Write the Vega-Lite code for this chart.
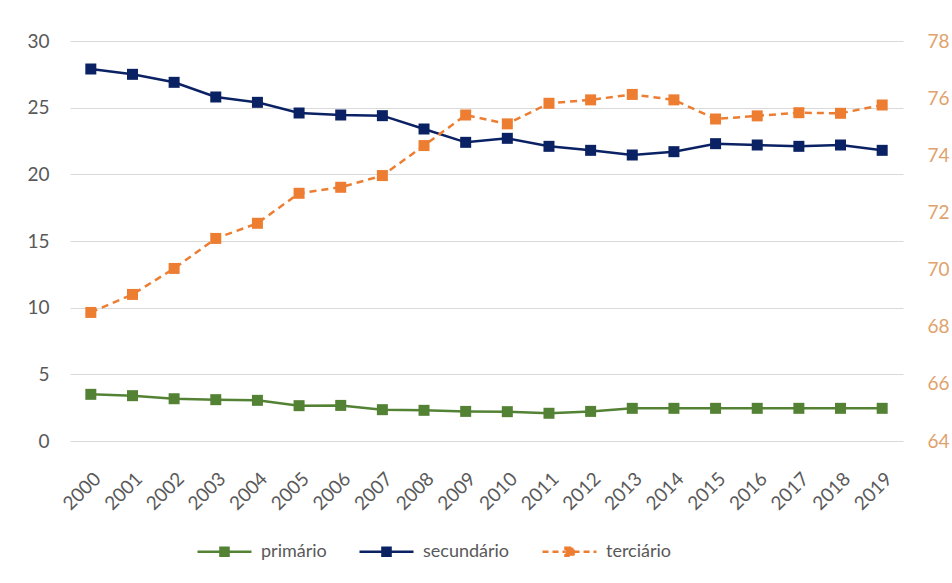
{
  "$schema": "https://vega.github.io/schema/vega-lite/v6.json",
  "width": 833,
  "height": 400,
  "autosize": {"type": "none"},
  "padding": {"left": 70, "top": 41, "right": 49, "bottom": 142},
  "background": "white",
  "config": {
    "font": "Lato",
    "view": {"stroke": null},
    "axis": {"labelFont": "Lato", "labelFontSize": 19, "labelColor": "#595959", "ticks": false, "domain": false, "title": null}
  },
  "datasets": {
    "serie": [
      {"ano": "2000", "serie": "primário", "valor": 3.5},
      {"ano": "2001", "serie": "primário", "valor": 3.4},
      {"ano": "2002", "serie": "primário", "valor": 3.17},
      {"ano": "2003", "serie": "primário", "valor": 3.1},
      {"ano": "2004", "serie": "primário", "valor": 3.05},
      {"ano": "2005", "serie": "primário", "valor": 2.65},
      {"ano": "2006", "serie": "primário", "valor": 2.67},
      {"ano": "2007", "serie": "primário", "valor": 2.35},
      {"ano": "2008", "serie": "primário", "valor": 2.3},
      {"ano": "2009", "serie": "primário", "valor": 2.22},
      {"ano": "2010", "serie": "primário", "valor": 2.2},
      {"ano": "2011", "serie": "primário", "valor": 2.08},
      {"ano": "2012", "serie": "primário", "valor": 2.22},
      {"ano": "2013", "serie": "primário", "valor": 2.45},
      {"ano": "2014", "serie": "primário", "valor": 2.45},
      {"ano": "2015", "serie": "primário", "valor": 2.45},
      {"ano": "2016", "serie": "primário", "valor": 2.45},
      {"ano": "2017", "serie": "primário", "valor": 2.45},
      {"ano": "2018", "serie": "primário", "valor": 2.45},
      {"ano": "2019", "serie": "primário", "valor": 2.45},
      {"ano": "2000", "serie": "secundário", "valor": 27.9},
      {"ano": "2001", "serie": "secundário", "valor": 27.5},
      {"ano": "2002", "serie": "secundário", "valor": 26.9},
      {"ano": "2003", "serie": "secundário", "valor": 25.8},
      {"ano": "2004", "serie": "secundário", "valor": 25.4},
      {"ano": "2005", "serie": "secundário", "valor": 24.6},
      {"ano": "2006", "serie": "secundário", "valor": 24.45},
      {"ano": "2007", "serie": "secundário", "valor": 24.4},
      {"ano": "2008", "serie": "secundário", "valor": 23.4},
      {"ano": "2009", "serie": "secundário", "valor": 22.4},
      {"ano": "2010", "serie": "secundário", "valor": 22.7},
      {"ano": "2011", "serie": "secundário", "valor": 22.1},
      {"ano": "2012", "serie": "secundário", "valor": 21.8},
      {"ano": "2013", "serie": "secundário", "valor": 21.45},
      {"ano": "2014", "serie": "secundário", "valor": 21.7},
      {"ano": "2015", "serie": "secundário", "valor": 22.3},
      {"ano": "2016", "serie": "secundário", "valor": 22.2},
      {"ano": "2017", "serie": "secundário", "valor": 22.1},
      {"ano": "2018", "serie": "secundário", "valor": 22.2},
      {"ano": "2019", "serie": "secundário", "valor": 21.8},
      {"ano": "2000", "serie": "terciário", "valor": 68.5},
      {"ano": "2001", "serie": "terciário", "valor": 69.13},
      {"ano": "2002", "serie": "terciário", "valor": 70.04},
      {"ano": "2003", "serie": "terciário", "valor": 71.09},
      {"ano": "2004", "serie": "terciário", "valor": 71.62},
      {"ano": "2005", "serie": "terciário", "valor": 72.67},
      {"ano": "2006", "serie": "terciário", "valor": 72.88},
      {"ano": "2007", "serie": "terciário", "valor": 73.29},
      {"ano": "2008", "serie": "terciário", "valor": 74.34},
      {"ano": "2009", "serie": "terciário", "valor": 75.41},
      {"ano": "2010", "serie": "terciário", "valor": 75.1},
      {"ano": "2011", "serie": "terciário", "valor": 75.82},
      {"ano": "2012", "serie": "terciário", "valor": 75.94},
      {"ano": "2013", "serie": "terciário", "valor": 76.13},
      {"ano": "2014", "serie": "terciário", "valor": 75.94},
      {"ano": "2015", "serie": "terciário", "valor": 75.27},
      {"ano": "2016", "serie": "terciário", "valor": 75.38},
      {"ano": "2017", "serie": "terciário", "valor": 75.49},
      {"ano": "2018", "serie": "terciário", "valor": 75.47},
      {"ano": "2019", "serie": "terciário", "valor": 75.76}
    ]
  },
  "data": {"name": "serie"},
  "encoding": {
    "x": {
      "field": "ano",
      "type": "ordinal",
      "scale": {"type": "point", "padding": 0.5},
      "axis": {"labelAngle": -45, "labelPadding": 28, "grid": false}
    },
    "color": {
      "field": "serie",
      "type": "nominal",
      "scale": {"domain": ["primário", "secundário", "terciário"], "range": ["#548235", "#0a2163", "#ED7D31"]},
      "legend": {
        "orient": "none",
        "legendX": 126,
        "legendY": 482,
        "direction": "horizontal",
        "title": null,
        "symbolType": "M-1,0H-0.15M0.15,0H1M-0.15,-0.15H0.15V0.15H-0.15Z",
        "symbolSize": 2916,
        "symbolStrokeWidth": 2.5,
        "labelFont": "Lato",
        "labelFontSize": 18,
        "labelColor": "#595959",
        "labelOffset": 8,
        "columnPadding": 27,
        "encode": {
          "symbols": {
            "update": {
              "fill": {"scale": "color", "field": "value"},
              "stroke": {"scale": "color", "field": "value"},
              "strokeDash": {"signal": "datum.value === 'terciário' ? [6, 4] : []"},
              "opacity": {"value": 1}
            }
          }
        }
      }
    }
  },
  "layer": [
    {
      "transform": [{"filter": "datum.serie !== 'terciário'"}],
      "encoding": {
        "y": {
          "field": "valor",
          "type": "quantitative",
          "scale": {"domain": [0, 30], "nice": false, "zero": false},
          "axis": {"orient": "left", "values": [0, 5, 10, 15, 20, 25, 30], "grid": true, "gridColor": "#d9d9d9", "gridWidth": 1, "labelPadding": 21}
        }
      },
      "layer": [
        {"mark": {"type": "line", "strokeWidth": 2.5}, "encoding": {}},
        {"mark": {"type": "point", "shape": "square", "filled": true, "size": 121, "opacity": 1}, "encoding": {}}
      ]
    },
    {
      "transform": [{"filter": "datum.serie === 'terciário'"}],
      "encoding": {
        "y": {
          "field": "valor",
          "type": "quantitative",
          "scale": {"domain": [64, 78], "nice": false, "zero": false},
          "axis": {"orient": "right", "values": [64, 66, 68, 70, 72, 74, 76, 78], "grid": false, "labelPadding": 24, "labelColor": "#DFA26C"}
        }
      },
      "layer": [
        {"mark": {"type": "line", "strokeWidth": 2.5, "strokeDash": [7, 5]}, "encoding": {}},
        {"mark": {"type": "point", "shape": "square", "filled": true, "size": 121, "opacity": 1}, "encoding": {}}
      ]
    }
  ],
  "resolve": {"scale": {"y": "independent"}}
}
